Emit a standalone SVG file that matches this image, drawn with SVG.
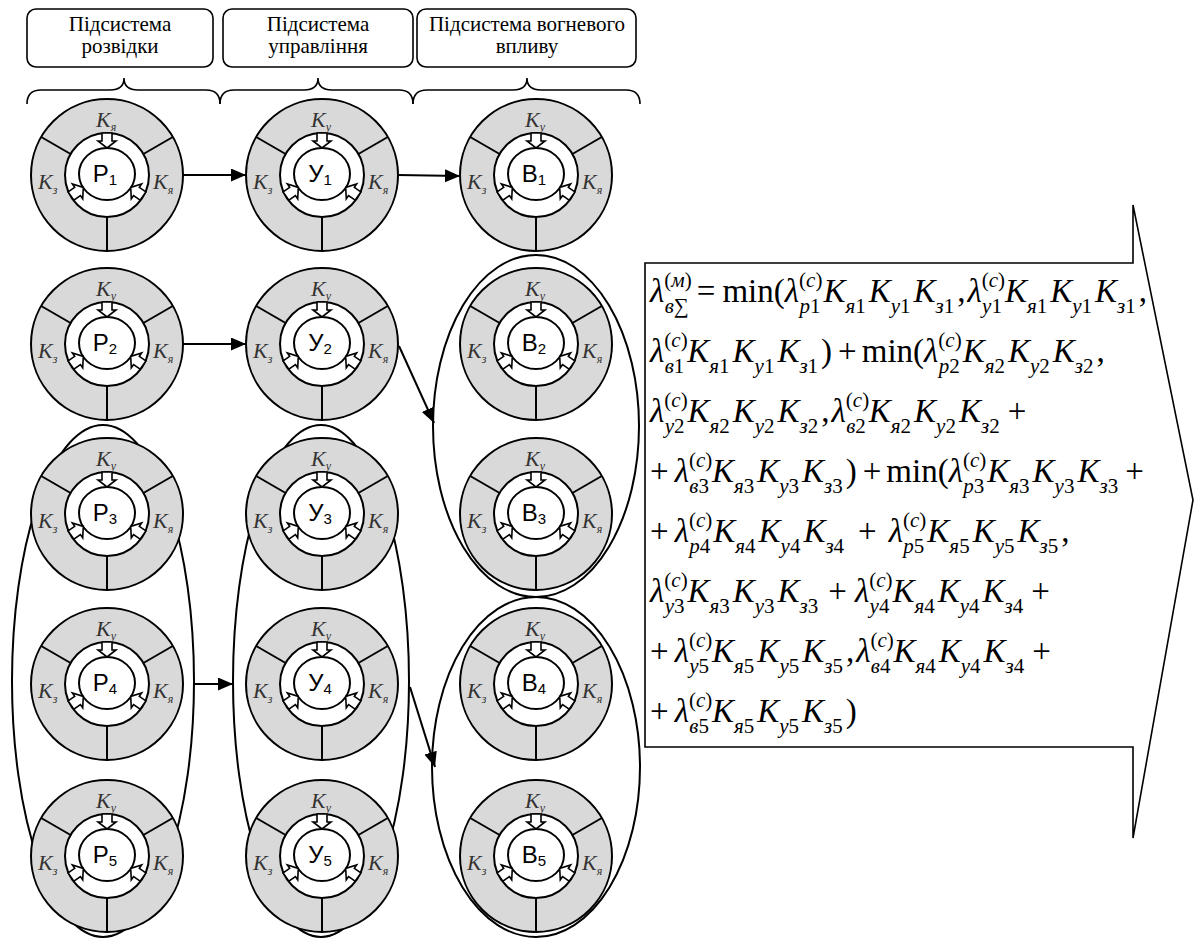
<svg xmlns="http://www.w3.org/2000/svg" xmlns:xlink="http://www.w3.org/1999/xlink" width="1195" height="940" viewBox="0 0 1195 940">
<style>
.bx{fill:#fff;stroke:#000;stroke-width:1.6}
.br{fill:none;stroke:#000;stroke-width:1.6}
.ht{font-family:"Liberation Serif","Times New Roman",serif;font-size:21px;fill:#000;text-anchor:middle}
.el{fill:none;stroke:#000;stroke-width:2}
.outer{fill:#d9d9d9;stroke:#000;stroke-width:2}
.wh{fill:#fff;stroke:#000;stroke-width:2}
.dv{stroke:#000;stroke-width:2}
.ba{fill:#fff;stroke:#000;stroke-width:1.6;stroke-linejoin:miter}
.lbl{font-family:"Liberation Sans",Arial,sans-serif;font-size:24px;fill:#000;text-anchor:middle}
.ls{font-size:15px}
.k{font-family:"Liberation Serif","Times New Roman",serif;font-style:italic;font-size:22px;fill:#333}
.ks{font-size:12px}
.cn{fill:none;stroke:#000;stroke-width:2}
.f{font-family:"Liberation Serif","Times New Roman",serif;font-size:33px;fill:#000}
.i{font-style:italic}
.s{font-size:21px}
</style>
<defs>
<marker id="ah" markerUnits="userSpaceOnUse" markerWidth="16" markerHeight="14" refX="15" refY="6.5" orient="auto"><path d="M0,0 L15,6.5 L0,13 Z" fill="#000"/></marker>
<path id="barrow" class="ba" d="M0,-5 L8,-5 L8,-9 L15,0 L8,9 L8,5 L0,5 Z"/>
<g id="ring">
<circle r="76" class="outer"/>
<line class="dv" x1="-65.8" y1="-38" x2="-36.4" y2="-21"/>
<line class="dv" x1="65.8" y1="-38" x2="36.4" y2="-21"/>
<line class="dv" x1="0" y1="42" x2="0" y2="76"/>
<circle r="42" class="wh"/>
<ellipse cx="0" cy="-1" rx="28" ry="26" class="wh"/>
<use xlink:href="#barrow" href="#barrow" transform="translate(0,-42) rotate(90)"/>
<use xlink:href="#barrow" href="#barrow" transform="translate(-36,21) rotate(-35)"/>
<use xlink:href="#barrow" href="#barrow" transform="translate(36,21) rotate(215)"/>
</g>
</defs>
<rect width="1195" height="940" fill="#fff"/>
<g id="headers">
<g id="hdr-rozvidka"><rect class="bx" x="27" y="9" width="186" height="58" rx="9"/><text class="ht" x="120" y="31">Підсистема</text><text class="ht" x="120" y="53">розвідки</text><path class="br" d="M27,104 Q27,90 41,90 L110,90 Q124,90 124,78 Q124,90 138,90 L206,90 Q220,90 220,104"/></g>
<g id="hdr-upravlinnia"><rect class="bx" x="223" y="9" width="190" height="58" rx="9"/><text class="ht" x="318" y="31">Підсистема</text><text class="ht" x="318" y="53">управління</text><path class="br" d="M220,104 Q220,90 234,90 L304,90 Q318,90 318,78 Q318,90 332,90 L399,90 Q413,90 413,104"/></g>
<g id="hdr-vohnevoho"><rect class="bx" x="417" y="9" width="219" height="58" rx="9"/><text class="ht" x="527" y="31">Підсистема вогневого</text><text class="ht" x="527" y="53">впливу</text><path class="br" d="M413,104 Q413,90 427,90 L513,90 Q527,90 527,78 Q527,90 541,90 L626,90 Q640,90 640,104"/></g>
</g>
<g id="groups">
<ellipse id="grp-P" class="el" cx="103" cy="681" rx="91" ry="256"/>
<ellipse id="grp-U" class="el" cx="321" cy="681" rx="88" ry="256"/>
<ellipse id="grp-B23" class="el" cx="536" cy="426" rx="103" ry="171"/>
<ellipse id="grp-B45" class="el" cx="536" cy="767" rx="104" ry="170"/>
</g>
<g id="nodes">
<g id="P1" transform="translate(107,175)"><use xlink:href="#ring" href="#ring"/><text class="lbl" x="-2" y="7">Р<tspan class="ls" dy="3">1</tspan></text><text class="k" x="-11" y="-48">K<tspan class="ks" dy="4">я</tspan></text><text class="k" x="-69" y="14">K<tspan class="ks" dy="5">з</tspan></text><text class="k" x="46" y="14">K<tspan class="ks" dy="5">я</tspan></text></g>
<g id="P2" transform="translate(107,344)"><use xlink:href="#ring" href="#ring"/><text class="lbl" x="-2" y="7">Р<tspan class="ls" dy="3">2</tspan></text><text class="k" x="-11" y="-48">K<tspan class="ks" dy="4">у</tspan></text><text class="k" x="-69" y="14">K<tspan class="ks" dy="5">з</tspan></text><text class="k" x="46" y="14">K<tspan class="ks" dy="5">я</tspan></text></g>
<g id="P3" transform="translate(107,514)"><use xlink:href="#ring" href="#ring"/><text class="lbl" x="-2" y="7">Р<tspan class="ls" dy="3">3</tspan></text><text class="k" x="-11" y="-48">K<tspan class="ks" dy="4">у</tspan></text><text class="k" x="-69" y="14">K<tspan class="ks" dy="5">з</tspan></text><text class="k" x="46" y="14">K<tspan class="ks" dy="5">я</tspan></text></g>
<g id="P4" transform="translate(107,684)"><use xlink:href="#ring" href="#ring"/><text class="lbl" x="-2" y="7">Р<tspan class="ls" dy="3">4</tspan></text><text class="k" x="-11" y="-48">K<tspan class="ks" dy="4">у</tspan></text><text class="k" x="-69" y="14">K<tspan class="ks" dy="5">з</tspan></text><text class="k" x="46" y="14">K<tspan class="ks" dy="5">я</tspan></text></g>
<g id="P5" transform="translate(107,856)"><use xlink:href="#ring" href="#ring"/><text class="lbl" x="-2" y="7">Р<tspan class="ls" dy="3">5</tspan></text><text class="k" x="-11" y="-48">K<tspan class="ks" dy="4">у</tspan></text><text class="k" x="-69" y="14">K<tspan class="ks" dy="5">з</tspan></text><text class="k" x="46" y="14">K<tspan class="ks" dy="5">я</tspan></text></g>
<g id="U1" transform="translate(322,175)"><use xlink:href="#ring" href="#ring"/><text class="lbl" x="-2" y="7">У<tspan class="ls" dy="3">1</tspan></text><text class="k" x="-11" y="-48">K<tspan class="ks" dy="4">у</tspan></text><text class="k" x="-69" y="14">K<tspan class="ks" dy="5">з</tspan></text><text class="k" x="46" y="14">K<tspan class="ks" dy="5">я</tspan></text></g>
<g id="U2" transform="translate(322,344)"><use xlink:href="#ring" href="#ring"/><text class="lbl" x="-2" y="7">У<tspan class="ls" dy="3">2</tspan></text><text class="k" x="-11" y="-48">K<tspan class="ks" dy="4">у</tspan></text><text class="k" x="-69" y="14">K<tspan class="ks" dy="5">з</tspan></text><text class="k" x="46" y="14">K<tspan class="ks" dy="5">я</tspan></text></g>
<g id="U3" transform="translate(322,514)"><use xlink:href="#ring" href="#ring"/><text class="lbl" x="-2" y="7">У<tspan class="ls" dy="3">3</tspan></text><text class="k" x="-11" y="-48">K<tspan class="ks" dy="4">у</tspan></text><text class="k" x="-69" y="14">K<tspan class="ks" dy="5">з</tspan></text><text class="k" x="46" y="14">K<tspan class="ks" dy="5">я</tspan></text></g>
<g id="U4" transform="translate(322,684)"><use xlink:href="#ring" href="#ring"/><text class="lbl" x="-2" y="7">У<tspan class="ls" dy="3">4</tspan></text><text class="k" x="-11" y="-48">K<tspan class="ks" dy="4">у</tspan></text><text class="k" x="-69" y="14">K<tspan class="ks" dy="5">з</tspan></text><text class="k" x="46" y="14">K<tspan class="ks" dy="5">я</tspan></text></g>
<g id="U5" transform="translate(322,856)"><use xlink:href="#ring" href="#ring"/><text class="lbl" x="-2" y="7">У<tspan class="ls" dy="3">5</tspan></text><text class="k" x="-11" y="-48">K<tspan class="ks" dy="4">у</tspan></text><text class="k" x="-69" y="14">K<tspan class="ks" dy="5">з</tspan></text><text class="k" x="46" y="14">K<tspan class="ks" dy="5">я</tspan></text></g>
<g id="B1" transform="translate(536,175)"><use xlink:href="#ring" href="#ring"/><text class="lbl" x="-2" y="7">В<tspan class="ls" dy="3">1</tspan></text><text class="k" x="-11" y="-48">K<tspan class="ks" dy="4">у</tspan></text><text class="k" x="-69" y="14">K<tspan class="ks" dy="5">з</tspan></text><text class="k" x="46" y="14">K<tspan class="ks" dy="5">я</tspan></text></g>
<g id="B2" transform="translate(536,344)"><use xlink:href="#ring" href="#ring"/><text class="lbl" x="-2" y="7">В<tspan class="ls" dy="3">2</tspan></text><text class="k" x="-11" y="-48">K<tspan class="ks" dy="4">у</tspan></text><text class="k" x="-69" y="14">K<tspan class="ks" dy="5">з</tspan></text><text class="k" x="46" y="14">K<tspan class="ks" dy="5">я</tspan></text></g>
<g id="B3" transform="translate(536,514)"><use xlink:href="#ring" href="#ring"/><text class="lbl" x="-2" y="7">В<tspan class="ls" dy="3">3</tspan></text><text class="k" x="-11" y="-48">K<tspan class="ks" dy="4">у</tspan></text><text class="k" x="-69" y="14">K<tspan class="ks" dy="5">з</tspan></text><text class="k" x="46" y="14">K<tspan class="ks" dy="5">я</tspan></text></g>
<g id="B4" transform="translate(536,684)"><use xlink:href="#ring" href="#ring"/><text class="lbl" x="-2" y="7">В<tspan class="ls" dy="3">4</tspan></text><text class="k" x="-11" y="-48">K<tspan class="ks" dy="4">у</tspan></text><text class="k" x="-69" y="14">K<tspan class="ks" dy="5">з</tspan></text><text class="k" x="46" y="14">K<tspan class="ks" dy="5">я</tspan></text></g>
<g id="B5" transform="translate(536,856)"><use xlink:href="#ring" href="#ring"/><text class="lbl" x="-2" y="7">В<tspan class="ls" dy="3">5</tspan></text><text class="k" x="-11" y="-48">K<tspan class="ks" dy="4">у</tspan></text><text class="k" x="-69" y="14">K<tspan class="ks" dy="5">з</tspan></text><text class="k" x="46" y="14">K<tspan class="ks" dy="5">я</tspan></text></g>
</g>
<g id="connectors">
<line class="cn" x1="183" y1="175" x2="246" y2="175" marker-end="url(#ah)"/>
<line class="cn" x1="398" y1="175" x2="460" y2="176" marker-end="url(#ah)"/>
<line class="cn" x1="183" y1="344" x2="246" y2="344" marker-end="url(#ah)"/>
<line class="cn" x1="399" y1="346" x2="434" y2="423" marker-end="url(#ah)"/>
<line class="cn" x1="194" y1="684" x2="233" y2="684" marker-end="url(#ah)"/>
<line class="cn" x1="410" y1="687" x2="435" y2="767" marker-end="url(#ah)"/>
</g>
<g id="result">
<path class="bx" stroke-width="2" d="M645,263 L1133,263 L1133,205 L1193,500 L1133,838 L1133,747 L645,747 Z"/>
<text class="f" x="650" y="302"><tspan class="i">λ</tspan><tspan class="s" dy="-15">(<tspan class="i">м</tspan>)</tspan><tspan class="s i" dx="-27" dy="26">в</tspan><tspan class="s">∑</tspan><tspan dx="8" dy="-11">=</tspan><tspan dx="7">min(</tspan><tspan class="i">λ</tspan><tspan class="s" dy="-15">(<tspan class="i">c</tspan>)</tspan><tspan class="s i" dx="-23" dy="26">р</tspan><tspan class="s">1</tspan><tspan class="i" dx="3" dy="-11">K</tspan><tspan class="s i" dy="11">я</tspan><tspan class="s">1</tspan><tspan class="i" dx="3" dy="-11">K</tspan><tspan class="s i" dy="11">у</tspan><tspan class="s">1</tspan><tspan class="i" dx="3" dy="-11">K</tspan><tspan class="s i" dy="11">з</tspan><tspan class="s">1</tspan><tspan dx="3" dy="-11">,</tspan><tspan class="i" dx="2">λ</tspan><tspan class="s" dy="-15">(<tspan class="i">c</tspan>)</tspan><tspan class="s i" dx="-23" dy="26">у</tspan><tspan class="s">1</tspan><tspan class="i" dx="3" dy="-11">K</tspan><tspan class="s i" dy="11">я</tspan><tspan class="s">1</tspan><tspan class="i" dx="3" dy="-11">K</tspan><tspan class="s i" dy="11">у</tspan><tspan class="s">1</tspan><tspan class="i" dx="3" dy="-11">K</tspan><tspan class="s i" dy="11">з</tspan><tspan class="s">1</tspan><tspan dx="3" dy="-11">,</tspan></text>
<text class="f" x="650" y="362"><tspan class="i">λ</tspan><tspan class="s" dy="-15">(<tspan class="i">c</tspan>)</tspan><tspan class="s i" dx="-23" dy="26">в</tspan><tspan class="s">1</tspan><tspan class="i" dx="3" dy="-11">K</tspan><tspan class="s i" dy="11">я</tspan><tspan class="s">1</tspan><tspan class="i" dx="3" dy="-11">K</tspan><tspan class="s i" dy="11">у</tspan><tspan class="s">1</tspan><tspan class="i" dx="3" dy="-11">K</tspan><tspan class="s i" dy="11">з</tspan><tspan class="s">1</tspan><tspan dx="3" dy="-11">)</tspan><tspan dx="6">+</tspan><tspan dx="5">min(</tspan><tspan class="i">λ</tspan><tspan class="s" dy="-15">(<tspan class="i">c</tspan>)</tspan><tspan class="s i" dx="-23" dy="26">р</tspan><tspan class="s">2</tspan><tspan class="i" dx="3" dy="-11">K</tspan><tspan class="s i" dy="11">я</tspan><tspan class="s">2</tspan><tspan class="i" dx="3" dy="-11">K</tspan><tspan class="s i" dy="11">у</tspan><tspan class="s">2</tspan><tspan class="i" dx="3" dy="-11">K</tspan><tspan class="s i" dy="11">з</tspan><tspan class="s">2</tspan><tspan dx="3" dy="-11">,</tspan></text>
<text class="f" x="650" y="422"><tspan class="i">λ</tspan><tspan class="s" dy="-15">(<tspan class="i">c</tspan>)</tspan><tspan class="s i" dx="-23" dy="26">у</tspan><tspan class="s">2</tspan><tspan class="i" dx="3" dy="-11">K</tspan><tspan class="s i" dy="11">я</tspan><tspan class="s">2</tspan><tspan class="i" dx="3" dy="-11">K</tspan><tspan class="s i" dy="11">у</tspan><tspan class="s">2</tspan><tspan class="i" dx="3" dy="-11">K</tspan><tspan class="s i" dy="11">з</tspan><tspan class="s">2</tspan><tspan dx="3" dy="-11">,</tspan><tspan class="i" dx="2">λ</tspan><tspan class="s" dy="-15">(<tspan class="i">c</tspan>)</tspan><tspan class="s i" dx="-23" dy="26">в</tspan><tspan class="s">2</tspan><tspan class="i" dx="3" dy="-11">K</tspan><tspan class="s i" dy="11">я</tspan><tspan class="s">2</tspan><tspan class="i" dx="3" dy="-11">K</tspan><tspan class="s i" dy="11">у</tspan><tspan class="s">2</tspan><tspan class="i" dx="3" dy="-11">K</tspan><tspan class="s i" dy="11">з</tspan><tspan class="s">2</tspan><tspan dx="8" dy="-11">+</tspan></text>
<text class="f" x="650" y="482"><tspan>+</tspan><tspan class="i" dx="6">λ</tspan><tspan class="s" dy="-15">(<tspan class="i">c</tspan>)</tspan><tspan class="s i" dx="-23" dy="26">в</tspan><tspan class="s">3</tspan><tspan class="i" dx="3" dy="-11">K</tspan><tspan class="s i" dy="11">я</tspan><tspan class="s">3</tspan><tspan class="i" dx="3" dy="-11">K</tspan><tspan class="s i" dy="11">у</tspan><tspan class="s">3</tspan><tspan class="i" dx="3" dy="-11">K</tspan><tspan class="s i" dy="11">з</tspan><tspan class="s">3</tspan><tspan dx="3" dy="-11">)</tspan><tspan dx="6">+</tspan><tspan dx="5">min(</tspan><tspan class="i">λ</tspan><tspan class="s" dy="-15">(<tspan class="i">c</tspan>)</tspan><tspan class="s i" dx="-23" dy="26">р</tspan><tspan class="s">3</tspan><tspan class="i" dx="3" dy="-11">K</tspan><tspan class="s i" dy="11">я</tspan><tspan class="s">3</tspan><tspan class="i" dx="3" dy="-11">K</tspan><tspan class="s i" dy="11">у</tspan><tspan class="s">3</tspan><tspan class="i" dx="3" dy="-11">K</tspan><tspan class="s i" dy="11">з</tspan><tspan class="s">3</tspan><tspan dx="7" dy="-11">+</tspan></text>
<text class="f" x="650" y="542"><tspan>+</tspan><tspan class="i" dx="6">λ</tspan><tspan class="s" dy="-15">(<tspan class="i">c</tspan>)</tspan><tspan class="s i" dx="-23" dy="26">р</tspan><tspan class="s">4</tspan><tspan class="i" dx="3" dy="-11">K</tspan><tspan class="s i" dy="11">я</tspan><tspan class="s">4</tspan><tspan class="i" dx="3" dy="-11">K</tspan><tspan class="s i" dy="11">у</tspan><tspan class="s">4</tspan><tspan class="i" dx="3" dy="-11">K</tspan><tspan class="s i" dy="11">з</tspan><tspan class="s">4</tspan><tspan dx="14" dy="-11">+</tspan><tspan class="i" dx="12">λ</tspan><tspan class="s" dy="-15">(<tspan class="i">c</tspan>)</tspan><tspan class="s i" dx="-23" dy="26">р</tspan><tspan class="s">5</tspan><tspan class="i" dx="3" dy="-11">K</tspan><tspan class="s i" dy="11">я</tspan><tspan class="s">5</tspan><tspan class="i" dx="3" dy="-11">K</tspan><tspan class="s i" dy="11">у</tspan><tspan class="s">5</tspan><tspan class="i" dx="3" dy="-11">K</tspan><tspan class="s i" dy="11">з</tspan><tspan class="s">5</tspan><tspan dx="3" dy="-11">,</tspan></text>
<text class="f" x="650" y="602"><tspan class="i">λ</tspan><tspan class="s" dy="-15">(<tspan class="i">c</tspan>)</tspan><tspan class="s i" dx="-23" dy="26">у</tspan><tspan class="s">3</tspan><tspan class="i" dx="3" dy="-11">K</tspan><tspan class="s i" dy="11">я</tspan><tspan class="s">3</tspan><tspan class="i" dx="3" dy="-11">K</tspan><tspan class="s i" dy="11">у</tspan><tspan class="s">3</tspan><tspan class="i" dx="3" dy="-11">K</tspan><tspan class="s i" dy="11">з</tspan><tspan class="s">3</tspan><tspan dx="10" dy="-11">+</tspan><tspan class="i" dx="8">λ</tspan><tspan class="s" dy="-15">(<tspan class="i">c</tspan>)</tspan><tspan class="s i" dx="-23" dy="26">у</tspan><tspan class="s">4</tspan><tspan class="i" dx="3" dy="-11">K</tspan><tspan class="s i" dy="11">я</tspan><tspan class="s">4</tspan><tspan class="i" dx="3" dy="-11">K</tspan><tspan class="s i" dy="11">у</tspan><tspan class="s">4</tspan><tspan class="i" dx="3" dy="-11">K</tspan><tspan class="s i" dy="11">з</tspan><tspan class="s">4</tspan><tspan dx="8" dy="-11">+</tspan></text>
<text class="f" x="650" y="662"><tspan>+</tspan><tspan class="i" dx="6">λ</tspan><tspan class="s" dy="-15">(<tspan class="i">c</tspan>)</tspan><tspan class="s i" dx="-23" dy="26">у</tspan><tspan class="s">5</tspan><tspan class="i" dx="3" dy="-11">K</tspan><tspan class="s i" dy="11">я</tspan><tspan class="s">5</tspan><tspan class="i" dx="3" dy="-11">K</tspan><tspan class="s i" dy="11">у</tspan><tspan class="s">5</tspan><tspan class="i" dx="3" dy="-11">K</tspan><tspan class="s i" dy="11">з</tspan><tspan class="s">5</tspan><tspan dx="3" dy="-11">,</tspan><tspan class="i" dx="2">λ</tspan><tspan class="s" dy="-15">(<tspan class="i">c</tspan>)</tspan><tspan class="s i" dx="-23" dy="26">в</tspan><tspan class="s">4</tspan><tspan class="i" dx="3" dy="-11">K</tspan><tspan class="s i" dy="11">я</tspan><tspan class="s">4</tspan><tspan class="i" dx="3" dy="-11">K</tspan><tspan class="s i" dy="11">у</tspan><tspan class="s">4</tspan><tspan class="i" dx="3" dy="-11">K</tspan><tspan class="s i" dy="11">з</tspan><tspan class="s">4</tspan><tspan dx="8" dy="-11">+</tspan></text>
<text class="f" x="650" y="722"><tspan>+</tspan><tspan class="i" dx="6">λ</tspan><tspan class="s" dy="-15">(<tspan class="i">c</tspan>)</tspan><tspan class="s i" dx="-23" dy="26">в</tspan><tspan class="s">5</tspan><tspan class="i" dx="3" dy="-11">K</tspan><tspan class="s i" dy="11">я</tspan><tspan class="s">5</tspan><tspan class="i" dx="3" dy="-11">K</tspan><tspan class="s i" dy="11">у</tspan><tspan class="s">5</tspan><tspan class="i" dx="3" dy="-11">K</tspan><tspan class="s i" dy="11">з</tspan><tspan class="s">5</tspan><tspan dx="3" dy="-11">)</tspan></text>
</g>
</svg>
